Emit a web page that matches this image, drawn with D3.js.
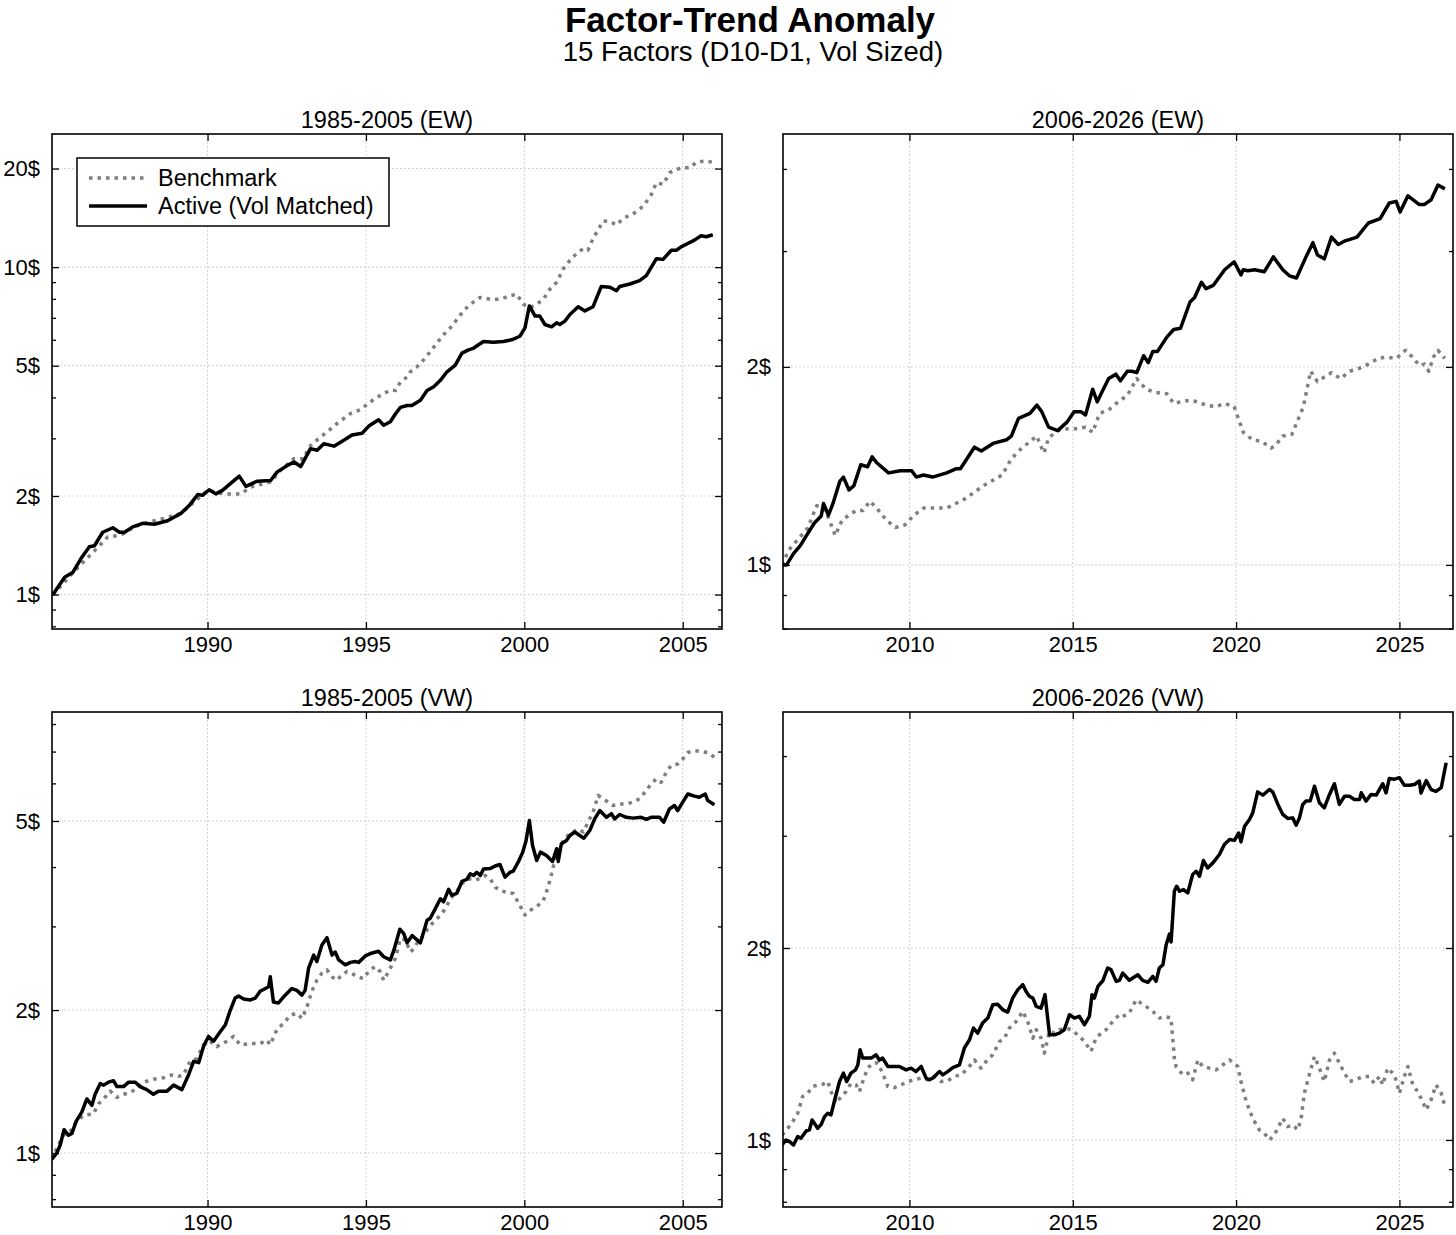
<!DOCTYPE html>
<html>
<head>
<meta charset="utf-8">
<script src="https://cdn.jsdelivr.net/npm/d3@7"></script>
<style>
  body { margin: 0; background: #fff; }
  text { font-family: "Liberation Sans", Arial, Helvetica, sans-serif; fill: #000; }
</style>
</head>
<body>
<script>
// growth of 1$, [year, value]

// 1985-2005 (EW)
const tlBench = [[1985.12,1.0],[1985.8,1.18],[1986.12,1.27],[1986.43,1.36],[1986.85,1.50],[1987.27,1.52],[1987.69,1.61],[1988.11,1.66],[1988.74,1.72],[1989.16,1.77],[1989.58,1.92],[1990.0,2.08],[1990.21,2.06],[1990.52,2.03],[1991.05,2.03],[1991.36,2.13],[1991.99,2.21],[1992.31,2.40],[1992.73,2.60],[1993.04,2.60],[1993.2,2.82],[1993.57,3.03],[1993.78,3.14],[1994.09,3.33],[1994.51,3.57],[1994.83,3.67],[1995.14,3.88],[1995.46,4.06],[1995.77,4.21],
  [1995.93,4.20],[1996.09,4.46],[1996.3,4.62],[1996.4,4.79],[1996.61,4.96],[1996.82,5.21],[1997.03,5.52],[1997.24,5.86],[1997.45,6.22],[1997.66,6.52],[1997.87,6.92],[1998.08,7.35],[1998.29,7.70],[1998.6,8.08],[1998.92,7.98],[1999.23,7.98],[1999.55,8.17],[1999.76,8.27],[1999.97,7.70],[2000.18,7.52],[2000.39,7.70],[2000.6,7.98],[2000.81,8.57],[2001.02,8.99],[2001.23,9.88],[2001.44,10.49],[2001.65,11.0],[2001.86,11.39],[2002.01,11.27],[2002.17,12.24],[2002.33,12.99],[2002.49,13.84],[2002.7,13.78],[2002.91,13.45],[2003.12,14.10],[2003.43,14.52],[2003.75,15.33],[2004.01,16.66],[2004.17,18.1],[2004.38,17.9],[2004.59,19.44],[2004.8,19.9],[2005.01,20.1],[2005.22,20.1],[2005.43,20.9],[2005.69,21.1],[2005.95,20.9]];
const tlActive = [[1985.12,1.0],[1985.49,1.13],[1985.75,1.17],[1986.01,1.29],[1986.27,1.40],[1986.43,1.41],[1986.69,1.55],[1987.01,1.60],[1987.22,1.55],[1987.38,1.55],[1987.64,1.61],[1987.95,1.65],[1988.32,1.64],[1988.74,1.68],[1989.16,1.77],[1989.42,1.87],[1989.69,2.02],[1989.84,2.01],[1990.05,2.09],[1990.26,2.03],[1990.47,2.08],[1991.0,2.30],[1991.21,2.14],[1991.57,2.22],[1991.99,2.23],[1992.2,2.37],[1992.52,2.48],[1992.73,2.54],[1992.94,2.46],[1993.25,2.79],[1993.46,2.76],[1993.67,2.89],[1993.99,2.84],[1994.3,2.96],[1994.56,3.07],[1994.88,3.11],[1995.09,3.27],[1995.4,3.42],[1995.56,3.29],[1995.77,3.37],
  [1995.93,3.56],[1996.09,3.73],[1996.3,3.78],[1996.45,3.78],[1996.72,3.92],[1996.93,4.20],[1997.14,4.31],[1997.35,4.51],[1997.56,4.79],[1997.82,5.02],[1998.03,5.46],[1998.24,5.59],[1998.39,5.65],[1998.71,5.93],[1999.02,5.90],[1999.34,5.93],[1999.6,6.00],[1999.86,6.15],[2000.02,6.52],[2000.16,7.61],[2000.34,7.09],[2000.49,7.09],[2000.65,6.68],[2000.86,6.57],[2001.02,6.76],[2001.12,6.68],[2001.28,6.84],[2001.44,7.17],[2001.7,7.57],[2001.91,7.35],[2002.17,7.57],[2002.43,8.73],[2002.7,8.68],[2002.91,8.47],[2003.01,8.73],[2003.33,8.88],[2003.64,9.10],[2003.85,9.42],[2004.17,10.61],[2004.38,10.56],[2004.64,11.26],[2004.8,11.26],[2004.95,11.53],[2005.16,11.81],[2005.37,12.09],[2005.58,12.47],[2005.74,12.38],[2005.95,12.56]];

// 2006-2026 (EW)
const trBench = [[2006.1,1.0],[2006.31,1.054],[2006.59,1.094],[2006.88,1.136],[2007.16,1.23],[2007.37,1.22],[2007.52,1.18],[2007.73,1.108],[2007.94,1.17],[2008.15,1.19],[2008.37,1.21],[2008.58,1.21],[2008.79,1.25],[2009.0,1.22],[2009.29,1.17],[2009.57,1.14],[2009.86,1.15],[2010.14,1.19],[2010.43,1.22],[2010.78,1.22],[2011.14,1.22],[2011.42,1.24],[2011.7,1.26],[2011.99,1.29],[2012.27,1.32],[2012.56,1.345],[2012.84,1.37],[2013.12,1.45],[2013.41,1.50],[2013.69,1.54],[2013.9,1.57],[2014.05,1.505],[2014.12,1.48],[2014.26,1.56],[2014.54,1.60],[2014.83,1.61],[2015.18,1.61],[2015.39,1.62],[2015.61,1.59],[2015.82,1.70],[2016.1,1.72],[2016.39,1.77],[2016.67,1.81],[2016.96,1.92],[2017.24,1.85],[2017.52,1.83],[2017.88,1.82],[2018.09,1.76],[2018.3,1.77],[2018.59,1.78],[2018.8,1.77],[2019.08,1.75],[2019.37,1.74],[2019.65,1.76],[2019.94,1.74],[2020.22,1.59],[2020.5,1.55],[2020.79,1.54],[2021.07,1.505],[2021.21,1.52],[2021.43,1.57],[2021.71,1.58],[2022.06,1.74],[2022.28,1.97],[2022.49,1.90],[2022.7,1.93],[2022.92,1.96],[2023.2,1.92],[2023.48,1.97],[2023.77,1.99],[2024.05,2.02],[2024.34,2.06],[2024.62,2.07],[2024.9,2.06],[2025.19,2.12],[2025.4,2.07],[2025.61,2.01],[2025.76,2.02],[2025.9,1.97],[2026.04,2.07],[2026.18,2.12],[2026.39,2.06]];
const trActive = [[2006.1,1.0],[2006.24,1.0],[2006.45,1.04],[2006.66,1.07],[2006.88,1.115],[2007.09,1.158],[2007.3,1.187],[2007.37,1.24],[2007.52,1.19],[2007.66,1.24],[2007.87,1.34],[2007.98,1.36],[2008.15,1.30],[2008.3,1.32],[2008.51,1.42],[2008.72,1.41],[2008.86,1.46],[2009.0,1.43],[2009.36,1.38],[2009.72,1.39],[2010.07,1.39],[2010.21,1.36],[2010.43,1.37],[2010.71,1.36],[2011.14,1.38],[2011.42,1.40],[2011.56,1.40],[2011.99,1.51],[2012.2,1.49],[2012.56,1.53],[2012.98,1.55],[2013.12,1.57],[2013.34,1.67],[2013.69,1.70],[2013.9,1.75],[2014.05,1.71],[2014.26,1.62],[2014.54,1.60],[2014.83,1.65],[2015.04,1.71],[2015.25,1.71],[2015.39,1.69],[2015.61,1.85],[2015.75,1.77],[2015.89,1.83],[2016.1,1.92],[2016.32,1.95],[2016.46,1.905],[2016.67,1.97],[2016.81,1.97],[2016.96,1.96],[2017.17,2.08],[2017.31,2.03],[2017.45,2.11],[2017.59,2.11],[2017.88,2.22],[2018.09,2.28],[2018.3,2.29],[2018.59,2.51],[2018.73,2.55],[2018.94,2.69],[2019.08,2.63],[2019.3,2.66],[2019.65,2.81],[2019.94,2.89],[2020.15,2.76],[2020.22,2.81],[2020.36,2.80],[2020.57,2.81],[2020.86,2.79],[2021.14,2.94],[2021.43,2.81],[2021.64,2.75],[2021.85,2.73],[2022.14,2.94],[2022.35,3.09],[2022.49,2.96],[2022.7,2.92],[2022.92,3.15],[2023.13,3.07],[2023.34,3.11],[2023.7,3.15],[2024.05,3.31],[2024.41,3.36],[2024.69,3.55],[2024.9,3.57],[2025.02,3.44],[2025.26,3.64],[2025.61,3.53],[2025.76,3.53],[2025.97,3.59],[2026.18,3.78],[2026.39,3.73]];

// 1985-2005 (VW)
const blBench = [[1985.08,0.97],[1985.29,1.04],[1985.45,1.09],[1985.66,1.11],[1985.87,1.166],[1986.08,1.20],[1986.4,1.21],[1986.56,1.27],[1986.72,1.30],[1986.93,1.35],[1987.14,1.31],[1987.35,1.33],[1987.56,1.34],[1987.77,1.37],[1987.98,1.41],[1988.29,1.43],[1988.61,1.44],[1988.87,1.46],[1989.08,1.45],[1989.24,1.46],[1989.45,1.56],[1989.66,1.58],[1989.87,1.69],[1990.08,1.72],[1990.29,1.675],[1990.61,1.72],[1990.82,1.76],[1991.03,1.69],[1991.35,1.70],[1991.66,1.70],[1991.87,1.73],[1991.98,1.69],[1992.19,1.82],[1992.4,1.875],[1992.61,1.95],[1992.82,1.97],[1992.98,1.92],[1993.14,2.03],[1993.29,2.19],[1993.45,2.31],[1993.61,2.39],[1993.77,2.43],[1993.93,2.35],[1994.08,2.31],[1994.24,2.37],[1994.4,2.41],[1994.56,2.39],[1994.72,2.35],[1994.93,2.33],[1995.08,2.41],[1995.29,2.47],[1995.45,2.41],[1995.56,2.31],[1995.77,2.45],
  [1995.93,2.57],[1996.09,2.83],[1996.25,2.81],[1996.4,2.65],[1996.51,2.69],[1996.67,2.81],[1996.82,2.87],[1996.98,2.99],[1997.19,3.09],[1997.4,3.19],[1997.56,3.32],[1997.66,3.43],[1997.82,3.52],[1998.03,3.69],[1998.24,3.78],[1998.45,3.75],[1998.61,3.79],[1998.76,3.84],[1998.92,3.78],[1999.08,3.63],[1999.23,3.57],[1999.44,3.54],[1999.65,3.52],[1999.86,3.32],[2000.02,3.17],[2000.18,3.24],[2000.39,3.30],[2000.6,3.40],[2000.75,3.63],[2000.86,3.87],[2000.96,4.13],[2001.07,4.30],[2001.23,4.55],[2001.38,4.66],[2001.54,4.74],[2001.7,4.81],[2001.86,4.74],[2002.01,4.97],[2002.17,5.22],[2002.33,5.66],[2002.49,5.57],[2002.64,5.48],[2002.8,5.39],[2003.01,5.43],[2003.22,5.43],[2003.43,5.48],[2003.64,5.57],[2003.85,5.80],[2004.0,5.98],[2004.16,6.13],[2004.32,6.03],[2004.48,6.33],[2004.63,6.54],[2004.84,6.59],[2005.0,6.75],[2005.16,6.97],[2005.37,7.03],[2005.58,7.0],[2005.79,6.97],[2006.0,6.81]];
const blActive = [[1985.08,0.97],[1985.24,1.0],[1985.35,1.04],[1985.47,1.12],[1985.61,1.09],[1985.72,1.10],[1985.85,1.166],[1986.03,1.22],[1986.19,1.30],[1986.35,1.26],[1986.45,1.33],[1986.61,1.40],[1986.72,1.39],[1986.87,1.41],[1987.03,1.42],[1987.14,1.38],[1987.35,1.38],[1987.51,1.41],[1987.72,1.41],[1987.87,1.38],[1988.08,1.36],[1988.29,1.33],[1988.45,1.35],[1988.72,1.35],[1988.93,1.39],[1989.19,1.36],[1989.4,1.46],[1989.56,1.56],[1989.72,1.55],[1989.87,1.675],[1990.03,1.76],[1990.19,1.72],[1990.4,1.80],[1990.56,1.86],[1990.72,2.0],[1990.87,2.12],[1990.98,2.14],[1991.14,2.11],[1991.35,2.10],[1991.51,2.12],[1991.66,2.19],[1991.93,2.24],[1991.98,2.35],[1992.08,2.08],[1992.24,2.07],[1992.45,2.15],[1992.66,2.22],[1992.82,2.20],[1992.98,2.15],[1993.08,2.20],[1993.19,2.45],[1993.35,2.61],[1993.45,2.53],[1993.61,2.74],[1993.77,2.84],[1993.93,2.61],[1994.03,2.65],[1994.14,2.55],[1994.35,2.49],[1994.51,2.52],[1994.66,2.53],[1994.77,2.52],[1994.98,2.60],[1995.14,2.63],[1995.4,2.66],[1995.56,2.59],[1995.77,2.55],
  [1995.88,2.67],[1996.07,2.96],[1996.19,2.90],[1996.3,2.77],[1996.46,2.87],[1996.56,2.83],[1996.72,2.77],[1996.93,3.09],[1997.03,3.12],[1997.19,3.27],[1997.35,3.43],[1997.45,3.38],[1997.61,3.59],[1997.71,3.49],[1997.87,3.52],[1998.03,3.73],[1998.19,3.77],[1998.29,3.87],[1998.4,3.84],[1998.5,3.90],[1998.61,3.84],[1998.71,3.96],[1998.92,3.97],[1999.08,4.02],[1999.23,4.05],[1999.39,3.81],[1999.55,3.90],[1999.65,3.92],[1999.81,4.10],[1999.95,4.30],[2000.05,4.53],[2000.16,5.01],[2000.26,4.44],[2000.39,4.13],[2000.51,4.30],[2000.7,4.23],[2000.89,4.11],[2001.02,4.37],[2001.07,4.11],[2001.17,4.48],[2001.33,4.55],[2001.44,4.66],[2001.59,4.74],[2001.75,4.66],[2001.88,4.60],[2002.07,4.78],[2002.22,5.05],[2002.38,5.26],[2002.59,5.09],[2002.75,5.18],[2002.85,5.05],[2003.01,5.16],[2003.22,5.09],[2003.43,5.07],[2003.69,5.09],[2003.85,5.04],[2004.0,5.09],[2004.27,5.09],[2004.4,4.97],[2004.58,5.30],[2004.74,5.39],[2004.84,5.26],[2005.0,5.48],[2005.16,5.70],[2005.37,5.64],[2005.52,5.61],[2005.71,5.70],[2005.79,5.52],[2006.0,5.41]];

// 2006-2026 (VW)
const brBench = [[2006.1,1.018],[2006.28,1.043],[2006.43,1.069],[2006.58,1.101],[2006.73,1.17],[2006.89,1.184],[2007.04,1.213],[2007.19,1.22],[2007.35,1.223],[2007.5,1.235],[2007.6,1.191],[2007.76,1.142],[2007.91,1.17],[2008.06,1.191],[2008.21,1.227],[2008.37,1.22],[2008.47,1.191],[2008.59,1.243],[2008.72,1.296],[2008.88,1.32],[2009.03,1.32],[2009.18,1.273],[2009.34,1.213],[2009.54,1.208],[2009.74,1.22],[2009.95,1.235],[2010.15,1.243],[2010.36,1.25],[2010.56,1.243],[2010.77,1.258],[2010.97,1.235],[2011.17,1.238],[2011.38,1.258],[2011.58,1.265],[2011.79,1.296],[2011.99,1.335],[2012.19,1.296],[2012.35,1.328],[2012.55,1.36],[2012.76,1.427],[2012.91,1.444],[2013.06,1.498],[2013.27,1.534],[2013.47,1.591],[2013.62,1.534],[2013.78,1.444],[2013.88,1.489],[2014.03,1.444],[2014.13,1.368],[2014.29,1.48],[2014.44,1.471],[2014.59,1.489],[2014.8,1.498],[2014.95,1.489],[2015.15,1.462],[2015.36,1.427],[2015.56,1.377],[2015.71,1.444],[2015.87,1.471],[2016.02,1.489],[2016.22,1.534],[2016.43,1.572],
  [2016.53,1.562],[2016.73,1.581],[2016.94,1.659],[2017.09,1.639],[2017.24,1.62],[2017.45,1.591],[2017.65,1.553],[2017.81,1.562],[2018.01,1.553],[2018.06,1.444],[2018.11,1.344],[2018.16,1.304],[2018.37,1.265],[2018.52,1.273],[2018.67,1.243],[2018.83,1.335],[2018.98,1.304],[2019.18,1.296],[2019.39,1.288],[2019.59,1.311],[2019.8,1.335],[2020.05,1.304],[2020.15,1.235],[2020.31,1.149],[2020.51,1.081],[2020.71,1.037],[2020.87,1.024],[2021.02,1.0],[2021.17,1.018],[2021.33,1.056],[2021.43,1.081],[2021.58,1.049],[2021.73,1.056],[2021.89,1.037],[2021.99,1.081],[2022.09,1.184],[2022.24,1.265],[2022.4,1.352],[2022.55,1.296],[2022.7,1.235],[2022.86,1.335],[2023.01,1.368],[2023.16,1.32],[2023.32,1.273],[2023.47,1.235],[2023.67,1.243],[2023.88,1.258],[2024.08,1.258],[2024.23,1.227],[2024.39,1.258],[2024.49,1.22],[2024.64,1.296],[2024.85,1.265],[2025.0,1.184],[2025.15,1.258],[2025.26,1.304],[2025.41,1.22],[2025.56,1.191],[2025.71,1.149],[2025.82,1.115],[2025.97,1.156],[2026.12,1.22],[2026.28,1.184],[2026.38,1.135]];
const brActive = [[2006.1,0.982],[2006.22,1.0],[2006.33,0.994],[2006.45,0.982],[2006.58,1.012],[2006.68,1.006],[2006.84,1.033],[2006.94,1.037],[2007.02,1.075],[2007.09,1.062],[2007.19,1.043],[2007.3,1.058],[2007.4,1.088],[2007.5,1.101],[2007.6,1.095],[2007.7,1.149],[2007.86,1.235],[2007.98,1.273],[2008.08,1.235],[2008.21,1.273],[2008.35,1.288],[2008.42,1.311],[2008.49,1.385],[2008.57,1.344],[2008.67,1.344],[2008.83,1.344],[2008.98,1.36],[2009.08,1.335],[2009.18,1.344],[2009.34,1.304],[2009.49,1.304],[2009.69,1.304],[2009.9,1.288],[2010.05,1.296],[2010.2,1.28],[2010.36,1.304],[2010.51,1.25],[2010.61,1.243],[2010.71,1.25],[2010.92,1.28],[2011.02,1.265],[2011.17,1.28],[2011.33,1.299],[2011.53,1.311],[2011.68,1.393],[2011.84,1.436],[2011.96,1.498],[2012.09,1.471],[2012.24,1.525],[2012.4,1.553],[2012.55,1.629],[2012.7,1.632],[2012.86,1.60],[2013.01,1.587],[2013.16,1.669],[2013.32,1.721],[2013.47,1.752],[2013.57,1.71],[2013.67,1.68],[2013.78,1.669],[2013.88,1.62],[2014.03,1.61],[2014.15,1.69],[2014.29,1.462],[2014.44,1.462],[2014.59,1.471],[2014.74,1.489],[2014.9,1.572],[2015.05,1.553],[2015.2,1.563],[2015.36,1.516],[2015.51,1.563],[2015.59,1.69],[2015.66,1.669],[2015.77,1.741],[2015.92,1.777],[2016.07,1.861],[2016.17,1.85],[2016.33,1.773],[2016.43,1.78],
  [2016.53,1.827],[2016.73,1.78],[2016.99,1.816],[2017.14,1.78],[2017.3,1.767],[2017.45,1.805],[2017.55,1.773],[2017.65,1.861],[2017.76,1.883],[2017.86,2.024],[2017.96,2.104],[2018.01,2.044],[2018.11,2.455],[2018.18,2.50],[2018.27,2.455],[2018.39,2.47],[2018.52,2.44],[2018.67,2.608],[2018.78,2.639],[2018.88,2.592],[2019.0,2.743],[2019.13,2.671],[2019.29,2.72],[2019.49,2.803],[2019.64,2.906],[2019.8,2.959],[2019.95,2.95],[2020.08,3.03],[2020.15,2.934],[2020.26,3.105],[2020.41,3.182],[2020.51,3.258],[2020.66,3.515],[2020.82,3.474],[2021.02,3.545],[2021.12,3.515],[2021.28,3.359],[2021.43,3.24],[2021.58,3.193],[2021.73,3.2],[2021.84,3.117],[2021.94,3.2],[2022.04,3.359],[2022.14,3.40],[2022.27,3.405],[2022.4,3.588],[2022.55,3.38],[2022.7,3.318],[2022.86,3.482],[2023.01,3.62],[2023.16,3.359],[2023.32,3.46],[2023.47,3.46],[2023.62,3.42],[2023.78,3.42],[2023.83,3.503],[2023.98,3.40],[2024.13,3.482],[2024.29,3.474],[2024.49,3.62],[2024.59,3.503],[2024.69,3.69],[2024.85,3.68],[2025.0,3.70],[2025.15,3.60],[2025.31,3.60],[2025.46,3.61],[2025.61,3.655],[2025.66,3.50],[2025.82,3.66],[2025.97,3.545],[2026.12,3.52],[2026.28,3.57],[2026.43,3.905]];

const yMajor = [1, 2, 5, 10, 20];
const xMajor = [1990, 1995, 2000, 2005, 2010, 2015, 2020, 2025];
const seriesNames = ["Benchmark", "Active (Vol Matched)"];

const W = 1456, H = 1235;
const pw = 670, ph = 495;
const font = '"Liberation Sans", Arial, Helvetica, sans-serif';

const panels = [
  { title: "1985-2005 (EW)", left: 52,  top: 134, xd: [1985.09, 2006.24], yd: [0.785, 25.5], bench: tlBench, active: tlActive, legend: true },
  { title: "2006-2026 (EW)", left: 783, top: 134, xd: [2006.13, 2026.64], yd: [0.799, 4.52], bench: trBench, active: trActive },
  { title: "1985-2005 (VW)", left: 52,  top: 712, xd: [1985.09, 2006.24], yd: [0.77, 8.48],  bench: blBench, active: blActive },
  { title: "2006-2026 (VW)", left: 783, top: 712, xd: [2006.13, 2026.64], yd: [0.785, 4.69], bench: brBench, active: brActive }
];

// minor log ticks 2..9 x 10^k (only where no major tick)
let yMinor = [];
[0.1, 1, 10].forEach(p => d3.range(1, 10).forEach(m => {
  const v = +(m * p).toFixed(3);
  if (!yMajor.includes(v) && v !== 0.1) yMinor.push(v);
}));

const svg = d3.select("body").append("svg")
  .attr("width", W)
  .attr("height", H);

svg.append("text")
  .attr("x", 750).attr("y", 32)
  .attr("text-anchor", "middle")
  .attr("font-size", 35).attr("font-weight", "bold")
  .text("Factor-Trend Anomaly");

svg.append("text")
  .attr("x", 753).attr("y", 61)
  .attr("text-anchor", "middle")
  .attr("font-size", 27.5)
  .text("15 Factors (D10-D1, Vol Sized)");

const benchStyle = { stroke: "#7f7f7f", dash: "3.5,5" };
const activeStyle = { stroke: "#000", dash: null };

panels.forEach((p, i) => {
  const x = d3.scaleLinear().domain(p.xd).range([0, pw]);
  const y = d3.scaleLog().domain(p.yd).range([ph, 0]);
  const xt = xMajor.filter(d => d >= p.xd[0] && d <= p.xd[1]);
  const yt = yMajor.filter(d => d >= p.yd[0] && d <= p.yd[1]);
  const ym = yMinor.filter(d => d >= p.yd[0] && d <= p.yd[1]);

  const g = svg.append("g").attr("transform", `translate(${p.left},${p.top})`);

  g.append("text")
    .attr("x", pw / 2).attr("y", -6)
    .attr("text-anchor", "middle")
    .attr("font-size", 23.5)
    .text(p.title);

  // grid
  g.append("g").selectAll("line").data(xt).join("line")
    .attr("x1", d => x(d)).attr("x2", d => x(d))
    .attr("y1", 0).attr("y2", ph)
    .attr("stroke", "#c4c4c4").attr("stroke-width", 1).attr("stroke-dasharray", "1.5,2.5");
  g.append("g").selectAll("line").data(yt).join("line")
    .attr("x1", 0).attr("x2", pw)
    .attr("y1", d => y(d)).attr("y2", d => y(d))
    .attr("stroke", "#c4c4c4").attr("stroke-width", 1).attr("stroke-dasharray", "1.5,2.5");

  g.append("clipPath").attr("id", "clip" + i)
    .append("rect").attr("width", pw).attr("height", ph);

  const line = d3.line().x(d => x(d[0])).y(d => y(d[1]));
  const lines = g.append("g").attr("clip-path", `url(#clip${i})`);
  [[p.bench, benchStyle], [p.active, activeStyle]].forEach(([data, st]) => {
    lines.append("path")
      .datum(data)
      .attr("d", line)
      .attr("fill", "none")
      .attr("stroke", st.stroke)
      .attr("stroke-width", 3.5)
      .attr("stroke-linejoin", "round")
      .attr("stroke-dasharray", st.dash);
  });

  // axes, ticks pointing inward on all four sides
  const style = sel => {
    sel.select(".domain").remove();
    sel.attr("font-size", 22).attr("font-family", font);
    sel.selectAll(".tick line").attr("stroke-width", 1.3);
    sel.selectAll(".tick text").attr("fill", "#000");
  };
  g.append("g").attr("transform", `translate(0,${ph})`)
    .call(d3.axisBottom(x).tickValues(xt).tickFormat(d3.format("d")).tickSizeInner(-7).tickSizeOuter(0).tickPadding(7))
    .call(style);
  g.append("g")
    .call(d3.axisTop(x).tickValues(xt).tickFormat("").tickSizeInner(-7).tickSizeOuter(0))
    .call(style);
  g.append("g")
    .call(d3.axisLeft(y).tickValues(yt).tickFormat(d => d + "$").tickSizeInner(-7).tickSizeOuter(0).tickPadding(12))
    .call(style);
  g.append("g")
    .call(d3.axisLeft(y).tickValues(ym).tickFormat("").tickSizeInner(-4).tickSizeOuter(0))
    .call(style);
  g.append("g").attr("transform", `translate(${pw},0)`)
    .call(d3.axisRight(y).tickValues(yt).tickFormat("").tickSizeInner(-7).tickSizeOuter(0))
    .call(style);
  g.append("g").attr("transform", `translate(${pw},0)`)
    .call(d3.axisRight(y).tickValues(ym).tickFormat("").tickSizeInner(-4).tickSizeOuter(0))
    .call(style);

  g.append("rect")
    .attr("width", pw).attr("height", ph)
    .attr("fill", "none").attr("stroke", "#000").attr("stroke-width", 1.6);

  if (p.legend) {
    const lg = g.append("g").attr("transform", "translate(25,24)");
    lg.append("rect")
      .attr("width", 312).attr("height", 68)
      .attr("fill", "#fff").attr("stroke", "#000").attr("stroke-width", 1.5);
    [benchStyle, activeStyle].forEach((st, k) => {
      const yy = 20 + k * 28;
      lg.append("line")
        .attr("x1", 12).attr("x2", 70).attr("y1", yy).attr("y2", yy)
        .attr("stroke", st.stroke).attr("stroke-width", 3.5)
        .attr("stroke-dasharray", st.dash);
      lg.append("text")
        .attr("x", 81).attr("y", yy).attr("dy", "0.35em")
        .attr("font-size", 23.5)
        .text(seriesNames[k]);
    });
  }
});
</script>
</body>
</html>
